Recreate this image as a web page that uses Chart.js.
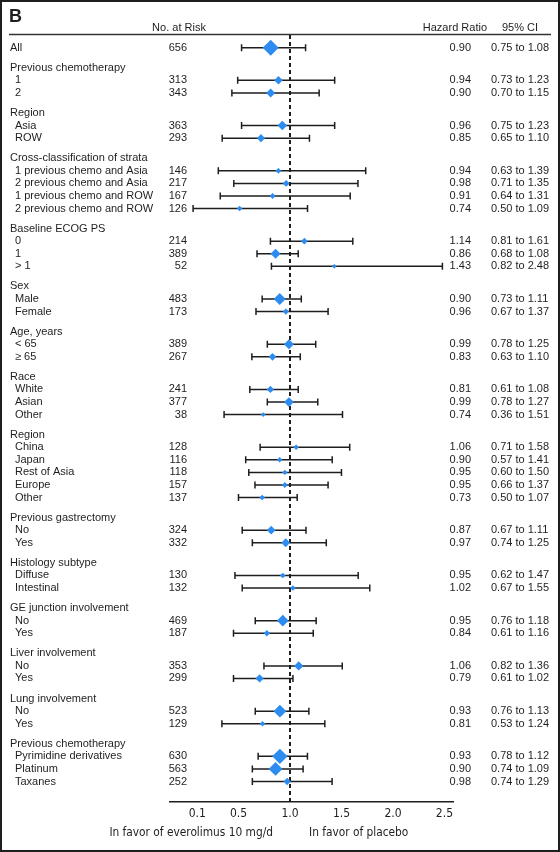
<!DOCTYPE html>
<html>
<head>
<meta charset="utf-8">
<script src="https://cdn.jsdelivr.net/npm/chart.js@4.4.0/dist/chart.umd.min.js"></script>
<style>
  html, body { margin: 0; padding: 0; background: #fff; }
  canvas { display: block; }
</style>
</head>
<body>
<canvas id="forest" width="560" height="852"></canvas>
<script>
// === DATA ===
const groupNames = ['Previous chemotherapy', 'Region', 'Cross-classification of strata', 'Baseline ECOG PS',
  'Sex', 'Age, years', 'Race', 'Region', 'Previous gastrectomy', 'Histology subtype',
  'GE junction involvement', 'Liver involvement', 'Lung involvement', 'Previous chemotherapy'];
const groupSizes = [2, 2, 4, 3, 2, 2, 3, 5, 2, 2, 2, 2, 2, 3];
// the source figure draws its three blocks of groups at different x-scales (see panelRange)
const groupPanel = [0, 0, 0, 1, 1, 1, 1, 1, 2, 2, 2, 2, 2, 2];

const subgroups = ['All',
  '1', '2',
  'Asia', 'ROW',
  '1 previous chemo and Asia', '2 previous chemo and Asia', '1 previous chemo and ROW', '2 previous chemo and ROW',
  '0', '1', '> 1',
  'Male', 'Female',
  '< 65', '\u2265 65',
  'White', 'Asian', 'Other',
  'China', 'Japan', 'Rest of Asia', 'Europe', 'Other',
  'No', 'Yes',
  'Diffuse', 'Intestinal',
  'No', 'Yes',
  'No', 'Yes',
  'No', 'Yes',
  'Pyrimidine derivatives', 'Platinum', 'Taxanes'];
const nAtRisk = [656, 313, 343, 363, 293, 146, 217, 167, 126, 214, 389, 52, 483, 173, 389, 267,
  241, 377, 38, 128, 116, 118, 157, 137, 324, 332, 130, 132, 469, 187, 353, 299, 523, 129, 630, 563, 252];
const hazardRatio = [0.90, 0.94, 0.90, 0.96, 0.85, 0.94, 0.98, 0.91, 0.74, 1.14, 0.86, 1.43, 0.90, 0.96, 0.99, 0.83,
  0.81, 0.99, 0.74, 1.06, 0.90, 0.95, 0.95, 0.73, 0.87, 0.97, 0.95, 1.02, 0.95, 0.84, 1.06, 0.79, 0.93, 0.81, 0.93, 0.90, 0.98];
const ciLow = [0.75, 0.73, 0.70, 0.75, 0.65, 0.63, 0.71, 0.64, 0.50, 0.81, 0.68, 0.82, 0.73, 0.67, 0.78, 0.63,
  0.61, 0.78, 0.36, 0.71, 0.57, 0.60, 0.66, 0.50, 0.67, 0.74, 0.62, 0.67, 0.76, 0.61, 0.82, 0.61, 0.76, 0.53, 0.78, 0.74, 0.74];
const ciHigh = [1.08, 1.23, 1.15, 1.23, 1.10, 1.39, 1.35, 1.31, 1.09, 1.61, 1.08, 2.48, 1.11, 1.37, 1.25, 1.10,
  1.08, 1.27, 1.51, 1.58, 1.41, 1.50, 1.37, 1.07, 1.11, 1.25, 1.47, 1.55, 1.18, 1.16, 1.36, 1.02, 1.13, 1.24, 1.12, 1.09, 1.29];
const tickValues = [0.1, 0.5, 1.0, 1.5, 2.0, 2.5];

// === ROW LAYOUT (row units, top to bottom) ===
const HEAD_GAP = 1.6;
const rows = [{ text: subgroups[0], indent: false, idx: 0, pos: 0, panel: 0 }];
let pos = 0, k = 1;
groupNames.forEach((g, gi) => {
  pos += HEAD_GAP;
  rows.push({ text: g, indent: false, idx: -1, pos, panel: groupPanel[gi] });
  for (let j = 0; j < groupSizes[gi]; j++) {
    pos += 1;
    rows.push({ text: subgroups[k], indent: true, idx: k, pos, panel: groupPanel[gi] });
    k++;
  }
});
const Y_MIN = -1.01, Y_MAX = pos + 1.6;
const panelRange = [[0.381, 1.840], [-0.165, 2.583], [0.172, 2.124]];
const panelAxis = ['x1', 'x2', 'x3'];

const BLUE = '#2D8CF0', INK = '#1e1e1e';
const SANS = '"Liberation Sans", Arial, sans-serif';
const NARROW = '"Liberation Sans Narrow", "DejaVu Sans Condensed", sans-serif';

// diamond grows with number at risk
function diamondSize(n) { return 2.2 + 5.8 * Math.pow(n / 656, 1.4); }

const datasets = [];
[0, 1, 2].forEach(p => {
  const rs = rows.filter(r => r.idx >= 0 && r.panel === p);
  const whisk = [];
  rs.forEach(r => {
    whisk.push({ x: ciLow[r.idx], y: r.pos }, { x: ciHigh[r.idx], y: r.pos }, { x: null, y: null });
  });
  datasets.push({
    type: 'line', xAxisID: panelAxis[p], data: whisk, order: 2,
    borderColor: INK, borderWidth: 1.5, spanGaps: false,
    pointStyle: 'line', rotation: 90, pointRadius: 3.5, pointBorderWidth: 1.5,
    pointBorderColor: INK, pointHoverRadius: 3.5
  });
  datasets.push({
    type: 'scatter', xAxisID: panelAxis[p], order: 0,
    data: rs.map(r => ({ x: hazardRatio[r.idx], y: r.pos })),
    pointStyle: 'rectRot', pointRadius: rs.map(r => diamondSize(nAtRisk[r.idx])),
    backgroundColor: BLUE, borderWidth: 0, pointBorderWidth: 0
  });
});
// reference line at HR = 1
datasets.push({
  type: 'line', xAxisID: 'x2', order: 1,
  data: [{ x: 1, y: Y_MIN }, { x: 1, y: Y_MAX }],
  borderColor: INK, borderWidth: 2, borderDash: [4, 3], pointRadius: 0
});

const textPlugin = {
  id: 'forestText',
  afterDraw(chart) {
    const ctx = chart.ctx, y = chart.scales.y;
    ctx.save();
    // frame
    ctx.strokeStyle = INK; ctx.lineWidth = 2;
    ctx.strokeRect(1, 1, chart.width - 2, chart.height - 2);
    ctx.fillStyle = INK;
    ctx.textBaseline = 'middle';
    ctx.font = 'bold 18px ' + SANS;
    ctx.textAlign = 'left';
    ctx.fillText('B', 9, 17);
    // header
    ctx.font = '11px ' + SANS;
    ctx.textAlign = 'center'; ctx.fillText('No. at Risk', 179, 28);
    ctx.textAlign = 'right'; ctx.fillText('Hazard Ratio', 487, 28);
    ctx.textAlign = 'left'; ctx.fillText('95% CI', 502, 28);
    ctx.strokeStyle = '#333'; ctx.lineWidth = 1.5;
    ctx.beginPath(); ctx.moveTo(9, 34.5); ctx.lineTo(551, 34.5); ctx.stroke();
    // rows
    rows.forEach(r => {
      const py = y.getPixelForValue(r.pos);
      ctx.textAlign = 'left';
      ctx.fillText(r.text, r.indent ? 15 : 10, py);
      if (r.idx < 0) return;
      ctx.textAlign = 'right';
      ctx.fillText(String(nAtRisk[r.idx]), 187, py);
      ctx.fillText(hazardRatio[r.idx].toFixed(2), 471, py);
      ctx.textAlign = 'left';
      ctx.fillText(ciLow[r.idx].toFixed(2) + ' to ' + ciHigh[r.idx].toFixed(2), 491, py);
    });
    // footer
    ctx.font = '11.8px ' + NARROW;
    ctx.textAlign = 'right'; ctx.fillText('In favor of everolimus 10 mg/d', 273, 833);
    ctx.textAlign = 'left'; ctx.fillText('In favor of placebo', 309, 833);
    ctx.restore();
  }
};

new Chart(document.getElementById('forest'), {
  data: { datasets },
  options: {
    responsive: false, animation: false,
    layout: { padding: { left: 170, right: 107, top: 35, bottom: 26 } },
    plugins: { legend: { display: false }, tooltip: { enabled: false } },
    scales: {
      y: { type: 'linear', reverse: true, min: Y_MIN, max: Y_MAX, display: false },
      x1: { type: 'linear', position: 'bottom', min: panelRange[0][0], max: panelRange[0][1], display: false },
      x3: { type: 'linear', position: 'bottom', min: panelRange[2][0], max: panelRange[2][1], display: false },
      x2: {
        type: 'linear', position: 'bottom', min: panelRange[1][0], max: panelRange[1][1],
        grid: { display: false, drawTicks: false },
        border: { display: true, color: INK, width: 1.5 },
        afterBuildTicks: s => { s.ticks = tickValues.map(v => ({ value: v })); },
        ticks: { autoSkip: false, maxRotation: 0, padding: 5, color: INK,
          font: { family: NARROW, size: 12 }, callback: v => v.toFixed(1) }
      }
    }
  },
  plugins: [textPlugin]
});
</script>
</body>
</html>
